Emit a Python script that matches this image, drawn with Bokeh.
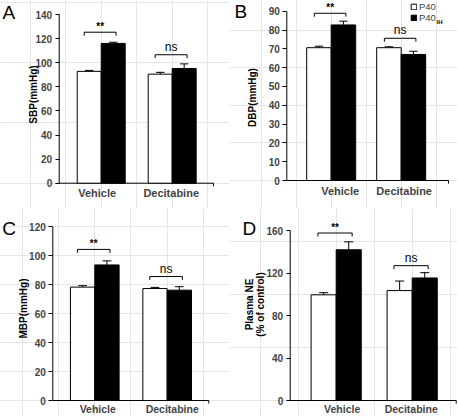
import math
from bokeh.plotting import figure
from bokeh.models import (Range1d, FixedTicker, Label, Legend, LegendItem,
                          LinearAxis)
from bokeh.layouts import column, row
from bokeh.embed import file_html
from bokeh.resources import INLINE

# ---------------- data ----------------
categories = ["Vehicle", "Decitabine"]
series_names = ["P40", "P40"]
series_sub = ["", "IH"]

sbp_p40 = [92.8, 90.5]
sbp_p40_err = [0.8, 1.5]
sbp_ih = [116.0, 95.2]
sbp_ih_err = [1.0, 3.8]

dbp_p40 = [70.6, 70.6]
dbp_p40_err = [0.8, 0.5]
dbp_ih = [82.7, 67.0]
dbp_ih_err = [2.0, 1.7]

mbp_p40 = [78.2, 77.2]
mbp_p40_err = [1.0, 0.8]
mbp_ih = [93.5, 76.1]
mbp_ih_err = [2.8, 2.4]

ne_p40 = [99.7, 103.7]
ne_p40_err = [2.0, 9.0]
ne_ih = [142.2, 115.6]
ne_ih_err = [7.5, 5.0]

sig_text = ["**", "ns"]
sbp_sig = [125.3, 106.6]
dbp_sig = [88.9, 75.6]
mbp_sig = [104.2, 85.5]
ne_sig = [158.0, 127.2]

sbp_ticks = [0, 20, 40, 60, 80, 100, 120, 140]
dbp_ticks = [0, 10, 20, 30, 40, 50, 60, 70, 80, 90]
mbp_ticks = [0, 20, 40, 60, 80, 100, 120]
ne_ticks = [0, 40, 80, 120, 160]

sbp_label = ["SBP(mmHg)"]
dbp_label = ["DBP(mmHg)"]
mbp_label = ["MBP(mmHg)"]
ne_label = ["Plasma NE", "(% of control)"]

FONT = "Liberation Sans"


def make_panel(letter, ylabel_lines, yticks, p40, p40_err, ih, ih_err, sig_y,
               width, height, box_px, xbounds, bar_w, letter_px, ylabel_px,
               cat_shift_px, cat_standoff=4, cat_font="11px", legend=False):
    # box_px: pixel position (inside this panel) of the axis box
    bl, br, bt, bb = box_px
    xlo, xhi = xbounds
    ymax = yticks[-1]
    ux = (xhi - xlo) / (br - bl)
    uy = ymax / (bb - bt)
    x_start = xlo - bl * ux
    x_end = xhi + (width - br) * ux
    y_start = -(height - bb) * uy
    y_end = ymax + bt * uy

    def px2x(px):
        return x_start + px * ux

    def px2y(py):
        return y_end - py * uy

    p = figure(width=width, height=height, output_backend="svg",
               toolbar_location=None, x_axis_location=None, y_axis_location=None,
               x_range=Range1d(x_start, x_end), y_range=Range1d(y_start, y_end),
               min_border=0, min_border_left=0, min_border_right=0,
               min_border_top=0, min_border_bottom=0)
    p.title.visible = False
    p.outline_line_color = None
    p.background_fill_color = "white"

    xs = [i + 1 for i in range(len(categories))]
    x_w = [x - bar_w / 2 for x in xs]
    x_b = [x + bar_w / 2 for x in xs]
    cap = 0.06

    # axis lines (only across the axis box) and the end tick of the x axis
    p.segment(x0=[xlo], y0=[0], x1=[xlo], y1=[ymax], line_color="black", line_width=1)
    p.segment(x0=[xlo], y0=[0], x1=[xhi], y1=[0], line_color="black", line_width=1)
    p.segment(x0=[xhi], y0=[0], x1=[xhi], y1=[-3 * uy], line_color="black", line_width=1)

    r1 = p.vbar(x=x_w, top=p40, width=bar_w, bottom=0, fill_color="white",
                line_color="black", line_width=1)
    r2 = p.vbar(x=x_b, top=ih, width=bar_w, bottom=0, fill_color="black",
                line_color="black", line_width=1)

    for xx, vals, errs in ((x_w, p40, p40_err), (x_b, ih, ih_err)):
        hi = [v + e for v, e in zip(vals, errs)]
        p.segment(x0=xx, y0=vals, x1=xx, y1=hi, line_color="black", line_width=1)
        p.segment(x0=[x - cap for x in xx], y0=hi, x1=[x + cap for x in xx], y1=hi,
                  line_color="black", line_width=1)

    # significance brackets
    drop = 3.4 * uy
    bx, by = [], []
    for x, h in zip(xs, sig_y):
        x0, x1 = x - 0.24, x + 0.21
        bx.append([x0, x0, x1, x1])
        by.append([h - drop, h, h, h - drop])
    p.multi_line(xs=bx, ys=by, line_color="black", line_width=1)
    for x, h, s in zip(xs, sig_y, sig_text):
        bold = s == "**"
        p.add_layout(Label(x=x - 0.015, y=h + (1 if not bold else 0) * uy, text=s,
                           text_align="center", text_baseline="bottom",
                           text_font=FONT,
                           text_font_size="10px" if bold else "12px",
                           text_font_style="bold" if bold else "normal",
                           text_color="black"))

    # axes at fixed positions
    yax = LinearAxis(fixed_location=xlo, ticker=FixedTicker(ticks=yticks))
    yax.axis_line_color = None
    yax.major_tick_out = 4
    yax.major_tick_in = 0
    yax.minor_tick_out = 0
    yax.minor_tick_in = 0
    yax.major_tick_line_color = "black"
    yax.major_label_standoff = 3
    yax.major_label_text_font = FONT
    yax.major_label_text_font_style = "bold"
    yax.major_label_text_font_size = "10px"
    p.add_layout(yax, "left")

    # y axis title (rotated), one Label per line
    for (lxp, lyp), txt in zip(ylabel_px, ylabel_lines):
        p.add_layout(Label(x=px2x(lxp), y=px2y(lyp), text=txt, angle=math.pi / 2,
                           text_align="center", text_baseline="middle",
                           text_font=FONT, text_font_style="bold",
                           text_font_size="10px", text_color="black"))

    tick_pos = [x + s * ux for x, s in zip(xs, cat_shift_px)]
    xax = LinearAxis(fixed_location=0, ticker=FixedTicker(ticks=tick_pos))
    xax.major_label_overrides = {t: c for t, c in zip(tick_pos, categories)}
    xax.axis_line_color = None
    xax.major_tick_out = 0
    xax.major_tick_in = 0
    xax.minor_tick_out = 0
    xax.minor_tick_in = 0
    xax.major_label_standoff = cat_standoff
    xax.major_label_text_font = FONT
    xax.major_label_text_font_style = "bold"
    xax.major_label_text_font_size = cat_font
    p.add_layout(xax, "below")

    # panel letter
    lx, ly = letter_px
    p.add_layout(Label(x=px2x(lx), y=px2y(ly), text=letter, text_baseline="top",
                       text_align="left", text_font=FONT, text_font_size="19px",
                       text_color="black"))

    if legend:
        leg = Legend(items=[LegendItem(label=series_names[0], renderers=[r1]),
                            LegendItem(label=series_names[1], renderers=[r2])],
                     location=(181, height - 22.6), padding=0, margin=0, spacing=0,
                     glyph_width=7, glyph_height=7, label_height=10,
                     label_standoff=2, label_text_font=FONT,
                     label_text_font_size="9.5px", border_line_color=None,
                     background_fill_alpha=0)
        p.add_layout(leg)
        p.add_layout(Label(x=px2x(207), y=px2y(21.5), text=series_sub[1],
                           text_baseline="alphabetic", text_align="left",
                           text_font=FONT, text_font_size="6px",
                           text_font_style="bold", text_color="black"))
    return p


pA = make_panel("A", sbp_label, sbp_ticks, sbp_p40, sbp_p40_err, sbp_ih, sbp_ih_err,
                sbp_sig, 229, 208, (58.7, 213.0, 14.0, 182.7), (0.408, 2.582), 0.338,
                (2, 1.5), [(33.0, 94.0)], (-4, -1))
pB = make_panel("B", dbp_label, dbp_ticks, dbp_p40, dbp_p40_err, dbp_ih, dbp_ih_err,
                dbp_sig, 228, 208, (57.3, 219.0, 10.7, 180.0), (0.366, 2.676), 0.35,
                (5, 0), [(23.3, 97.0)], (9, 3), legend=True)
pC = make_panel("C", mbp_label, mbp_ticks, mbp_p40, mbp_p40_err, mbp_ih, mbp_ih_err,
                mbp_sig, 229, 208, (52.3, 208.3, 18.0, 192.0), (0.42, 2.575), 0.336,
                (1.7, 9.8), [(23.3, 100.0)], (3, 5), cat_standoff=2, cat_font="10.5px")
pD = make_panel("D", ne_label, ne_ticks, ne_p40, ne_p40_err, ne_ih,
                ne_ih_err, ne_sig, 228, 208, (60.7, 226.7, 22.4, 192.0), (0.395, 2.579),
                0.33, (13, 9.5), [(20.0, 96.0), (31.0, 96.0)], (6, -1),
                cat_standoff=2, cat_font="10.5px")

layout = column(row(pA, pB), row(pC, pD))
open("out.html", "w").write(file_html(layout, INLINE))
